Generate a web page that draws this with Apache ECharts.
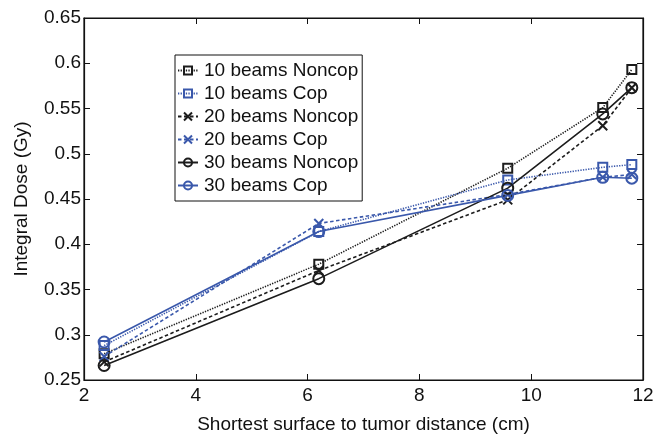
<!DOCTYPE html>
<html>
<head>
<meta charset="utf-8">
<script src="https://cdn.jsdelivr.net/npm/echarts@6/dist/echarts.min.js"></script>
<style>
  html, body { margin: 0; padding: 0; background: #fff; }
  #chart1 { width: 667px; height: 439px; }
</style>
</head>
<body>
<div id="chart1"></div>
<script>
// distances (cm)
var distance = [2.36, 6.2, 9.58, 11.28, 11.8];
var seriesNames = ['10 beams Noncop', '10 beams Cop', '20 beams Noncop', '20 beams Cop', '30 beams Noncop', '30 beams Cop'];
var noncop10 = [0.279, 0.378, 0.484, 0.551, 0.593];
var cop10 = [0.288, 0.414, 0.471, 0.485, 0.488];
var noncop20 = [0.270, 0.371, 0.449, 0.531, 0.573];
var cop20 = [0.276, 0.423, 0.455, 0.474, 0.477];
var noncop30 = [0.266, 0.362, 0.462, 0.544, 0.573];
var cop30 = [0.292, 0.414, 0.454, 0.474, 0.473];

var BLACK = '#1c1c1c';
var BLUE = '#3a58ab';
var CROSS = 'path://M0,0L10,10M10,0L0,10';
var SQUARE = 'path://M0,0L10,0L10,10L0,10Z';
var CIRCLE = 'path://M10,5A5,5 0 1,1 0,5A5,5 0 1,1 10,5Z';

function pairs(vals) {
    return vals.map(function (v, i) { return [distance[i], v]; });
}

function mkSeries(name, vals, color, lineType, symbol) {
    return {
        name: name,
        type: 'line',
        data: pairs(vals),
        symbol: symbol,
        symbolSize: symbol == CIRCLE ? 11 : 9,
        showAllSymbol: true,
        lineStyle: { color: color, width: 1.6, type: lineType },
        itemStyle: { color: 'none', borderColor: color, borderWidth: 2 },
        emphasis: { disabled: true }
    };
}

var mychart = echarts.init(document.getElementById('chart1'));
var axisFont = { color: '#111', fontSize: 19, fontFamily: 'Liberation Sans' };
var option = {
    animation: false,
    grid: { left: 84, right: 24, top: 18, bottom: 54, show: true, borderColor: '#111', borderWidth: 1.2 },
    legend: {
        orient: 'vertical',
        left: 175,
        top: 55,
        data: seriesNames,
        itemWidth: 20,
        itemHeight: 10,
        itemGap: 4,
        padding: [6, 4, 6, 2],
        borderColor: '#111',
        borderWidth: 1,
        backgroundColor: '#fff',
        textStyle: { color: '#111', fontSize: 19, lineHeight: 19, fontFamily: 'Liberation Sans', padding: [0, 0, 0, 1] }
    },
    xAxis: [{
        type: 'value',
        min: 2, max: 12, interval: 2,
        name: 'Shortest surface to tumor distance (cm)',
        nameLocation: 'middle', nameGap: 35,
        nameTextStyle: axisFont,
        axisLine: { show: true, lineStyle: { color: '#111', width: 1.2 } },
        axisTick: { inside: true, length: 6, lineStyle: { color: '#111' } },
        axisLabel: { color: '#111', fontSize: 19, fontFamily: 'Liberation Sans', margin: 6 },
        splitLine: { show: false }
    }, {
        type: 'value', position: 'top',
        min: 2, max: 12, interval: 2,
        axisLine: { show: true, lineStyle: { color: '#111', width: 1.2 } },
        axisTick: { inside: true, length: 6, lineStyle: { color: '#111' } },
        axisLabel: { show: false },
        splitLine: { show: false }
    }],
    yAxis: [{
        type: 'value',
        min: 0.25, max: 0.65, interval: 0.05,
        name: 'Integral Dose (Gy)',
        nameLocation: 'middle', nameGap: 53,
        nameTextStyle: axisFont,
        axisLine: { show: true, lineStyle: { color: '#111', width: 1.2 } },
        axisTick: { inside: true, length: 6, lineStyle: { color: '#111' } },
        axisLabel: {
            color: '#111', fontSize: 19, fontFamily: 'Liberation Sans', margin: 3,
            formatter: function (v) { return String(+v.toFixed(2)); }
        },
        splitLine: { show: false }
    }, {
        type: 'value', position: 'right',
        min: 0.25, max: 0.65, interval: 0.05,
        axisLine: { show: true, lineStyle: { color: '#111', width: 1.2 } },
        axisTick: { inside: true, length: 6, lineStyle: { color: '#111' } },
        axisLabel: { show: false },
        splitLine: { show: false }
    }],
    series: [
        mkSeries(seriesNames[0], noncop10, BLACK, [1.3, 1.3], SQUARE),
        mkSeries(seriesNames[1], cop10, BLUE, [1.3, 1.3], SQUARE),
        mkSeries(seriesNames[2], noncop20, BLACK, [3.5, 2.5], CROSS),
        mkSeries(seriesNames[3], cop20, BLUE, [3.5, 2.5], CROSS),
        mkSeries(seriesNames[4], noncop30, BLACK, 'solid', CIRCLE),
        mkSeries(seriesNames[5], cop30, BLUE, 'solid', CIRCLE)
    ]
};
mychart.setOption(option);
</script>
</body>
</html>
